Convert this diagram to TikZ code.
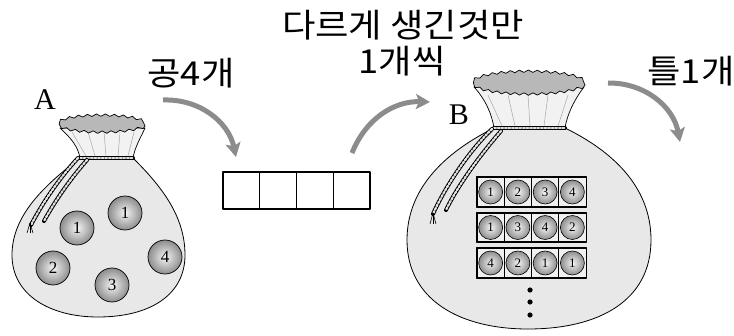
\documentclass[tikz,border=0pt]{standalone}
\usepackage{fontspec}
\setmainfont{Liberation Serif}
\newfontfamily\krfont[FakeStretch=1.1]{Noto Sans CJK KR}
\usetikzlibrary{arrows.meta,positioning,calc,decorations.pathmorphing}
\tikzset{
  bagbody/.style={draw=black, line width=0.8pt, fill=black!9},
  bagneck/.style={draw=black, line width=0.7pt, fill=black!5},
  bagrim/.style={draw=black, line width=0.7pt, fill=black!28,
    decorate, decoration={snake, segment length=9pt, amplitude=1.2pt}},
  fold/.style={draw=gray!70, line width=0.5pt},
  rope/.style={draw=black, line width=4pt, line cap=round,
    postaction={draw=gray!25, line width=2.2pt, dash pattern=on 2pt off 1.6pt}},
  bendarrow/.style={draw=black!45, line width=5pt,
    -{Stealth[length=14pt,width=15pt,inset=3pt]}},
  krtext/.style={font=\krfont\fontsize{33}{38}\selectfont, inner sep=0pt},
  baglabel/.style={font=\fontsize{30}{32}\selectfont, inner sep=0pt},
  cellbox/.style={draw, line width=1.2pt, minimum width=36.75pt, minimum height=37pt, inner sep=0pt},
  rowcell/.style={draw, line width=1pt, fill=black!6, minimum width=27.25pt, minimum height=28.5pt, inner sep=0pt},
  ballshade/.style={circle, draw, shading=radial, inner color=black!4, outer color=black!45},
  bigball/.style={ballshade, line width=0.7pt, minimum size=34pt, inner sep=0pt,
    font=\fontsize{17}{17}\selectfont},
  smallball/.style={ballshade, line width=0.6pt, minimum size=24pt, inner sep=0pt,
    font=\fontsize{13}{13}\selectfont}
}
\begin{document}
\begin{tikzpicture}[x=1pt, y=1pt, line join=round]
\useasboundingbox (0,0) rectangle (734,335);
% texts
\node[krtext] (title) at (403,310) {다르게 생긴것만};
\node[krtext] (each)  at (402,274) {1개씩};
\node[krtext] (four)  at (191,262) {공4개};
\node[krtext] (frame) at (691,264) {틀1개};
\node[baglabel] (labA) at (45,235) {A};
\node[baglabel] (labB) at (459,220) {B};
% bag A
\coordinate (tieAL) at (80,177);
\coordinate (tieAR) at (133,177);
\draw[bagbody] (tieAL) .. controls (45,150) and (12,120) .. (12,80) .. controls (12,40) and (50,18) .. (98,18)
  .. controls (150,18) and (185,40) .. (185,80) .. controls (185,120) and (160,150) .. (tieAR) -- cycle;
\draw[bagneck] (60,207) .. controls (72,196) and (78,188) .. (tieAL) -- (tieAR) .. controls (135,188) and (140,196) .. (145,207) -- cycle;
\foreach \a/\b in {72/86, 88/95, 104/106, 120/118, 134/128}
  \draw[fold] (\a,203) -- (\b,179);
\draw[bagrim] (102,209) ellipse (43 and 8);
\draw[rope] (tieAL) -- (tieAR);
\draw[rope] (78,177) .. controls (62,160) and (44,135) .. (31,110);
\draw[rope] (87,175) .. controls (72,158) and (56,136) .. (44,114);
\foreach \dx in {-3,0,3}
  \draw[line width=0.6pt] (30,112) -- ++(\dx,-10);
% balls in bag A
\node[bigball] (a1) at (77,107) {1};
\node[bigball] (a2) at (125,122) {1};
\node[bigball] (a3) at (53,67) {2};
\node[bigball] (a4) at (112,50) {3};
\node[bigball] (a5) at (165,78) {4};
% empty frame
\foreach \k in {0,...,3}
  \node[cellbox] (box\k) at (241.4+36.75*\k,144.5) {};
% arrows
\coordinate (s1) at (163,235); \coordinate (e1) at (236,178);
\coordinate (s2) at (352,182); \coordinate (e2) at (430,233);
\coordinate (s3) at (608,252); \coordinate (e3) at (680,193);
\draw[bendarrow] (s1) to[bend left=40] (e1);
\draw[bendarrow] (s2) to[bend left=35] (e2);
\draw[bendarrow] (s3) to[bend left=40] (e3);
% bag B
\coordinate (tieBL) at (494,207);
\coordinate (tieBR) at (565,207);
\draw[bagbody] (tieBL) .. controls (450,185) and (407,150) .. (407,95) .. controls (407,35) and (460,6) .. (528,6)
  .. controls (600,6) and (651,35) .. (651,95) .. controls (651,150) and (610,185) .. (tieBR) -- cycle;
\draw[bagneck] (474,248) .. controls (486,235) and (492,220) .. (tieBL) -- (tieBR) .. controls (567,220) and (574,235) .. (584,248) -- cycle;
\foreach \a/\b in {488/502, 508/515, 528/530, 548/544, 568/558}
  \draw[fold] (\a,240) -- (\b,209);
\draw[bagrim] (529,250) ellipse (56 and 11);
\draw[rope] (tieBL) -- (tieBR);
\draw[rope] (492,206) .. controls (470,185) and (446,150) .. (433,121);
\draw[rope] (501,204) .. controls (481,181) and (458,150) .. (446,125);
\foreach \dx in {-3,0,3}
  \draw[line width=0.6pt] (433,122) -- ++(\dx,-11);
% rows in bag B
\foreach \y/\list [count=\i] in {143/{1,2,3,4}, 107.5/{1,3,4,2}, 72/{4,2,1,1}} {
  \foreach \n [count=\j] in \list {
    \node[rowcell] (c-\i-\j) at (463.4+27.25*\j,\y) {};
    \node[smallball] (b-\i-\j) at (c-\i-\j) {\n};
  }
  \draw[line width=1.6pt] (c-\i-1.north west) rectangle (c-\i-4.south east);
}
\foreach \y [count=\k] in {45,33,20}
  \fill (530,\y) circle (2.6pt) coordinate (dot\k);
\end{tikzpicture}
\end{document}
